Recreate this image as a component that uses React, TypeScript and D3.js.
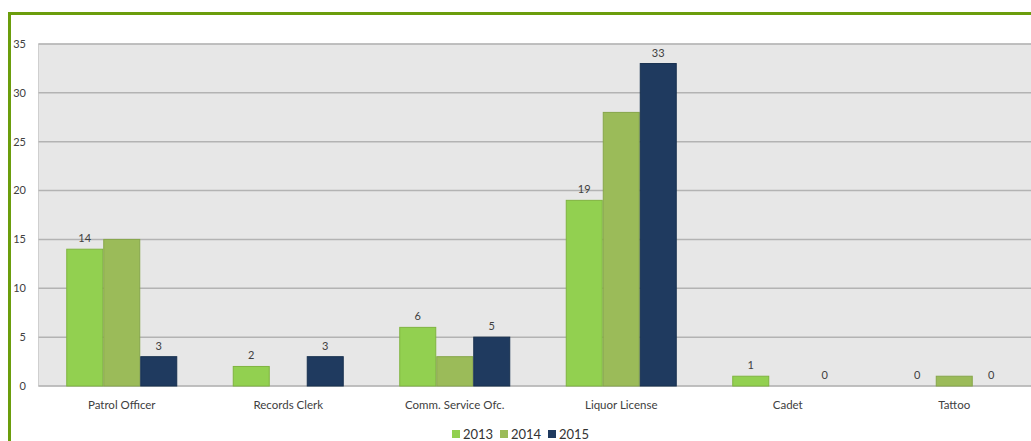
import React from "react";
import * as d3 from "d3";

const categories = ["Patrol Officer", "Records Clerk", "Comm. Service Ofc.", "Liquor License", "Cadet", "Tattoo"];
const seriesNames = ["2013", "2014", "2015"];
const values2013: (number | null)[] = [14, 2, 6, 19, 1, 0];
const values2014: (number | null)[] = [15, null, 3, 28, null, 1];
const values2015: (number | null)[] = [3, 3, 5, 33, 0, 0];
const showLabels = [true, false, true];
const colors = ["#92d050", "#9bbb59", "#1f3a5f"];
const strokes = ["#7fb43f", "#86a64a", "#17304f"];
const yTicks = [0, 5, 10, 15, 20, 25, 30, 35];

const W = 1031, H = 441;
const plotLeft = 38.5, plotRight = 1037.5, plotTop = 44, plotBottom = 386;
const font = "Lato, 'Open Sans', sans-serif";

export default function App() {
  const series = [values2013, values2014, values2015];
  const x0 = d3.scaleBand<string>().domain(categories).range([plotLeft, plotRight]).paddingInner(1 / 3).paddingOuter(1 / 6);
  const x1 = d3.scaleBand<string>().domain(seriesNames).range([0, x0.bandwidth()]);
  const y = d3.scaleLinear().domain([0, 35]).range([plotBottom, plotTop]);

  return (
    <svg width={W} height={H} style={{ position: "absolute", left: 0, top: 0, background: "#fff" }} fontFamily={font}>
      <rect x={plotLeft} y={plotTop} width={plotRight - plotLeft} height={plotBottom - plotTop} fill="#e7e7e7" stroke="#cfcfcf" />
      {yTicks.map((t) => (
        <g key={t}>
          {t > 0 && <line x1={plotLeft} x2={plotRight} y1={y(t)} y2={y(t)} stroke="#b3b3b3" strokeWidth={1.5} />}
          <text x={26} y={y(t)} dy="0.35em" textAnchor="end" fontSize={11} fill="#404040">{t}</text>
        </g>
      ))}
      <line x1={plotLeft} x2={plotRight} y1={plotBottom} y2={plotBottom} stroke="#b3b3b3" strokeWidth={1.5} />
      {categories.map((c, i) => (
        <g key={c} transform={`translate(${x0(c)},0)`}>
          {series.map((s, k) => {
            const v = s[i];
            if (v === null) return null;
            const bx = x1(seriesNames[k])!;
            const bw = x1.bandwidth();
            return (
              <g key={k}>
                {v > 0 && (
                  <rect x={bx + 0.5} y={y(v)} width={bw - 1} height={plotBottom - y(v)} fill={colors[k]} stroke={strokes[k]} strokeWidth={1} />
                )}
                {showLabels[k] && (
                  <text x={bx + bw / 2} y={y(v) - 7} textAnchor="middle" fontSize={11} fill="#404040">{v}</text>
                )}
              </g>
            );
          })}
          <text x={x0.bandwidth() / 2} y={409} textAnchor="middle" fontSize={11.5} fill="#404040">{c}</text>
        </g>
      ))}
      {seriesNames.map((n, k) => (
        <g key={n} transform={`translate(${452 + k * 48},0)`}>
          <rect x={0} y={430} width={8} height={8} fill={colors[k]} />
          <text x={11} y={438.5} fontSize={13} fill="#333">{n}</text>
        </g>
      ))}
      <path d={`M9.5,${H + 5} V13.5 H${W + 5}`} fill="none" stroke="#6b9d0c" strokeWidth={3} />
    </svg>
  );
}
